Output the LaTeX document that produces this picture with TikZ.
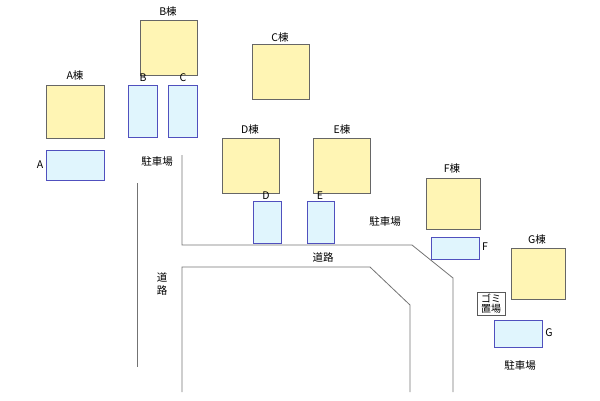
\documentclass[tikz,border=0pt]{standalone}
\usepackage{fontspec}
\setmainfont{Noto Sans CJK JP}
\begin{document}
\begin{tikzpicture}[x=1pt,y=-1pt,font=\fontsize{10.5}{12}\selectfont,
 bld/.style={draw=gray!80!black,fill=yellow!25!white!95!orange,line width=0.8pt},
 park/.style={draw={rgb,255:red,80;green,80;blue,190},fill=cyan!12,line width=0.8pt},
 road/.style={draw=gray!90!black,line width=0.8pt},
 lbl/.style={inner sep=0pt}]
\useasboundingbox (0,0) rectangle (600,400);
% buildings
\draw[bld] (46,85) rectangle (104,138); \node[lbl] (tA) at (75,76) {A棟};
\draw[bld] (140,20) rectangle (197,75); \node[lbl] (tB) at (168,12) {B棟};
\draw[bld] (252,44) rectangle (309,99); \node[lbl] (tC) at (280,38) {C棟};
\draw[bld] (222,138) rectangle (279,193); \node[lbl] (tD) at (250,130) {D棟};
\draw[bld] (313,138) rectangle (370,193); \node[lbl] (tE) at (342,130) {E棟};
\draw[bld] (426,178) rectangle (480,229); \node[lbl] (tF) at (452,169) {F棟};
\draw[bld] (511,248) rectangle (565,299); \node[lbl] (tG) at (537,240) {G棟};
% parking
\draw[park] (46,150) rectangle (104,180); \node[lbl] (pA) at (40,165) {A};
\draw[park] (128,85) rectangle (157,137); \node[lbl] (pB) at (143,78) {B};
\draw[park] (168,85) rectangle (197,137); \node[lbl] (pC) at (183,78) {C};
\draw[park] (253,201) rectangle (281,243); \node[lbl] (pD) at (266,196) {D};
\draw[park] (307,201) rectangle (334,243); \node[lbl] (pE) at (320,196) {E};
\draw[park] (431,237) rectangle (479,259); \node[lbl] (pF) at (485,247) {F};
\draw[park] (494,320) rectangle (542,347); \node[lbl] (pG) at (549,333) {G};
% garbage
\draw[draw=gray!70!black,fill=white,line width=0.6pt] (477,292) rectangle (505,315);
\node[lbl,align=center,font=\fontsize{10}{10.5}\selectfont] (gomi) at (491,303.5) {ゴミ\\置場};
% roads
\draw[road] (182,155) -- (182,245) -- (412,245) -- (453,278) -- (453,392);
\draw[road] (182,392) -- (182,267) -- (370,267) -- (410,305) -- (410,392);
\draw[road] (137,183) -- (137,367);
% texts
\node[lbl] (k1) at (157,162) {駐車場};
\node[lbl] (k2) at (385,222) {駐車場};
\node[lbl] (k3) at (520,366) {駐車場};
\node[lbl] (r1) at (323,257) {道路};
\node[lbl,align=center,font=\fontsize{10.5}{13}\selectfont] (r2) at (162,284) {道\\路};
\end{tikzpicture}
\end{document}
